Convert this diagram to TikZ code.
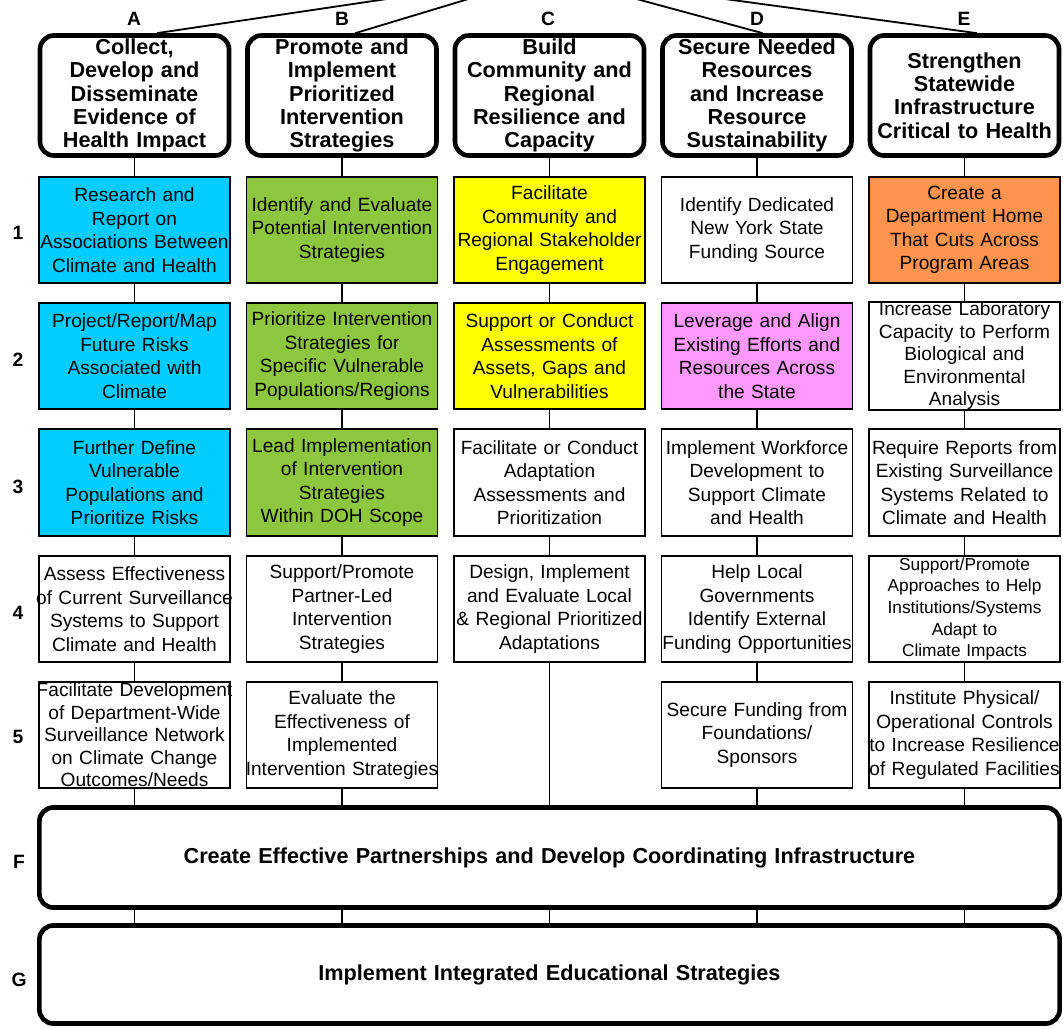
\documentclass[tikz,border=0pt]{standalone}
\usepackage{fontspec}
\setmainfont{Liberation Sans}
\usetikzlibrary{backgrounds}

\definecolor{skyblue}{HTML}{00CCFF}
\definecolor{leafgreen}{HTML}{8DC63F}
\definecolor{brightyellow}{HTML}{FFFF00}
\definecolor{softorange}{HTML}{FF944F}
\definecolor{softpink}{HTML}{FF99FF}

% keep a long line on one row, centred even when it runs past the box
\newcommand\snug[1]{\makebox[\hsize]{#1}}

\tikzset{
  goal/.style={draw, line width=3.3pt, rounded corners=0.35cm, fill=white,
    align=center, inner sep=0pt, text width=4.725cm,
    minimum width=4.725cm, minimum height=3cm,
    font=\fontsize{15.4}{16.5}\selectfont\bfseries},
  act/.style={draw, line width=1.2pt, fill=white, align=center,
    inner sep=0pt, text width=4.775cm,
    minimum width=4.775cm, minimum height=2.66cm,
    font=\fontsize{13.6}{16.7}\selectfont},
  dense/.style={font=\fontsize{13.6}{16}\selectfont},
  wide/.style={goal, text width=25.5cm, minimum width=25.5cm, minimum height=2.5cm},
  tag/.style={font=\fontsize{13.7}{15}\selectfont\bfseries},
  link/.style={line width=1.1pt},
}

\begin{document}
\begin{tikzpicture}[x=0.025cm, y=-0.025cm]
\useasboundingbox (0,0) rectangle (1063,1028);
\clip (0,0) rectangle (1063,1028);

% goal headers
\node[goal] (hA) at (134.5,95.5) {Collect,\\Develop and\\Disseminate\\Evidence of\\Health Impact};
\node[goal] (hB) at (342,95.5) {Promote and\\Implement\\Prioritized\\Intervention\\Strategies};
\node[goal] (hC) at (549.5,95.5) {Build\\Community and\\Regional\\Resilience and\\Capacity};
\node[goal] (hD) at (757,95.5) {Secure Needed\\Resources\\and Increase\\Resource\\Sustainability};
\node[goal] (hE) at (964.5,95.5) {Strengthen\\Statewide\\Infrastructure\\Critical to Health};

% column A
\node[act, fill=skyblue] (a1) at (134.5,230) {Research and\\Report on\\\snug{Associations Between}\\Climate and Health};
\node[act, fill=skyblue] (a2) at (134.5,356) {Project/Report/Map\\Future Risks\\Associated with\\Climate};
\node[act, fill=skyblue] (a3) at (134.5,482.5) {Further Define\\Vulnerable\\Populations and\\Prioritize Risks};
\node[act] (a4) at (134.5,609) {\snug{Assess Effectiveness}\\\snug{of Current Surveillance}\\Systems to Support\\Climate and Health};
\node[act, dense] (a5) at (134.5,735) {\snug{Facilitate Development}\\of Department-Wide\\\snug{Surveillance Network}\\on Climate Change\\Outcomes/Needs};

% column B
\node[act, fill=leafgreen] (b1) at (342,230) {\snug{Identify and Evaluate}\\\snug{Potential Intervention}\\Strategies};
\node[act, fill=leafgreen] (b2) at (342,356) {\snug{Prioritize Intervention}\\Strategies for\\Specific Vulnerable\\\snug{Populations/Regions}};
\node[act, fill=leafgreen] (b3) at (342,482.5) {\snug{Lead Implementation}\\of Intervention\\Strategies\\Within DOH Scope};
\node[act] (b4) at (342,609) {Support/Promote\\Partner-Led\\Intervention\\Strategies};
\node[act] (b5) at (342,735) {Evaluate the\\Effectiveness of\\Implemented\\\snug{Intervention Strategies}};

% column C
\node[act, fill=brightyellow] (c1) at (549.5,230) {Facilitate\\Community and\\\snug{Regional Stakeholder}\\Engagement};
\node[act, fill=brightyellow] (c2) at (549.5,356) {Support or Conduct\\Assessments of\\Assets, Gaps and\\Vulnerabilities};
\node[act] (c3) at (549.5,482.5) {\snug{Facilitate or Conduct}\\Adaptation\\Assessments and\\Prioritization};
\node[act] (c4) at (549.5,609) {Design, Implement\\and Evaluate Local\\\snug{\& Regional Prioritized}\\Adaptations};

% column D
\node[act] (d1) at (757,230) {Identify Dedicated\\New York State\\Funding Source};
\node[act, fill=softpink] (d2) at (757,356) {Leverage and Align\\Existing Efforts and\\Resources Across\\the State};
\node[act] (d3) at (757,482.5) {\snug{Implement Workforce}\\Development to\\Support Climate\\and Health};
\node[act] (d4) at (757,609) {Help Local\\Governments\\Identify External\\\snug{Funding Opportunities}};
\node[act] (d5) at (757,735) {\snug{Secure Funding from}\\Foundations/\\Sponsors};

% column E
\node[act, fill=softorange] (e1) at (964.5,230) {Create a\\Department Home\\That Cuts Across\\Program Areas};
\node[act, dense] (e2) at (964.5,356) {\snug{Increase Laboratory}\\\snug{Capacity to Perform}\\Biological and\\Environmental\\Analysis};
\node[act] (e3) at (964.5,482.5) {\snug{Require Reports from}\\\snug{Existing Surveillance}\\Systems Related to\\Climate and Health};
\node[act, font=\fontsize{12.3}{15.3}\selectfont] (e4) at (964.5,609) {Support/Promote\\Approaches to Help\\Institutions/Systems\\Adapt to\\Climate Impacts};
\node[act] (e5) at (964.5,735) {Institute Physical/\\\snug{Operational Controls}\\\snug{to Increase Resilience}\\\snug{of Regulated Facilities}};

% shared bars
\node[wide] (F) at (549.5,857.5) {Create Effective Partnerships and Develop Coordinating Infrastructure};
\node[wide, minimum height=2.45cm] (G) at (549.5,974.5) {Implement Integrated Educational Strategies};

% labels
\foreach \l/\x in {A/134, B/342, C/548, D/757, E/964}
  \node[tag] (l\l) at (\x,19) {\l};
\foreach \r/\y in {1/233, 2/360, 3/487, 4/613, 5/737}
  \node[tag] (n\r) at (18,\y) {\r};
\node[tag] (lF) at (19,862) {F};
\node[tag] (lG) at (19,980) {G};

% spine of each column, behind the boxes
\begin{scope}[on background layer]
  \foreach \c in {A,B,C,D,E}
    \draw[link] (h\c) -- (h\c |- G.north);
\end{scope}

% branches to the goal above
\coordinate (root) at (548,-25);
\foreach \c/\dx in {A/0.56, B/0.33, D/0.14, E/0.31}
  \draw[line width=1.3pt] (root) -- ([xshift=\dx cm]h\c.north);
\end{tikzpicture}
\end{document}
